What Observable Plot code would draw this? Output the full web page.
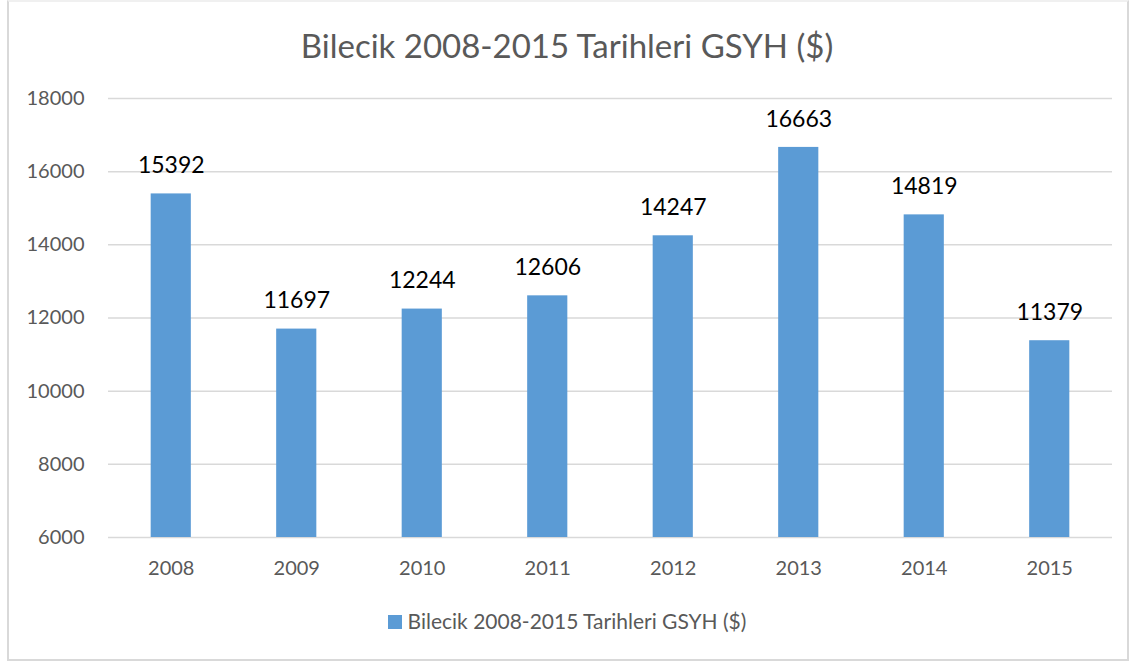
<!DOCTYPE html>
<html><head><meta charset="utf-8">
<script src="https://cdn.jsdelivr.net/npm/d3@7"></script>
<script src="https://cdn.jsdelivr.net/npm/@observablehq/plot@0.6"></script>
<style>
body{margin:0;background:#fff;font-family:Lato,"Open Sans",sans-serif;}
#frame{position:absolute;left:7px;top:0;width:1118px;height:657px;border:2px solid #d9d9d9;border-top-color:#f0f0f0;}
#title{position:absolute;left:0;width:1134px;top:25px;text-align:center;font-size:33px;line-height:40px;color:#595959;}
#chart{position:absolute;left:0;top:0;}
#legend{position:absolute;left:0;width:1134px;top:608px;text-align:center;font-size:21px;line-height:26px;color:#595959;}
#legend span.sw{display:inline-block;width:14px;height:14px;background:#5B9BD5;margin-right:6px;vertical-align:0px;}
</style></head>
<body>
<div id="frame"></div>
<div id="chart"></div>
<div id="title">Bilecik 2008-2015 Tarihleri GSYH ($)</div>
<div id="legend"><span class="sw"></span>Bilecik 2008-2015 Tarihleri GSYH ($)</div>
<script>
const years = ["2008","2009","2010","2011","2012","2013","2014","2015"];
const values = [15392,11697,12244,12606,14247,16663,14819,11379];
const yTicks = [6000,8000,10000,12000,14000,16000,18000];
const data = years.map((y,i)=>({year:y,value:values[i]}));

const chart = Plot.plot({
  width:1134, height:600,
  marginLeft:108, marginRight:22, marginTop:98, marginBottom:63,
  style:{fontFamily:"Lato, 'Open Sans', sans-serif", background:"transparent"},
  x:{domain:years, paddingInner:0.68, paddingOuter:0.34, round:false, label:null},
  y:{domain:[6000,18000], label:null},
  marks:[
    Plot.gridY(yTicks,{stroke:"#d9d9d9", strokeOpacity:1, strokeWidth:1.5}),
    Plot.barY(data,{x:"year", y1:6000, y2:"value", fill:"#5B9BD5"}),
    Plot.text(data,{x:"year", y:"value", text:d=>String(d.value), dy:-28, fontSize:23, fill:"#000"}),
    Plot.axisX({tickSize:0, tickPadding:23, fontSize:20, color:"#595959", label:null}),
    Plot.axisY(yTicks,{tickSize:0, tickPadding:24, fontSize:20, color:"#595959", label:null, tickFormat:d=>String(d)})
  ]
});
document.getElementById("chart").appendChild(chart);
</script>
</body></html>
